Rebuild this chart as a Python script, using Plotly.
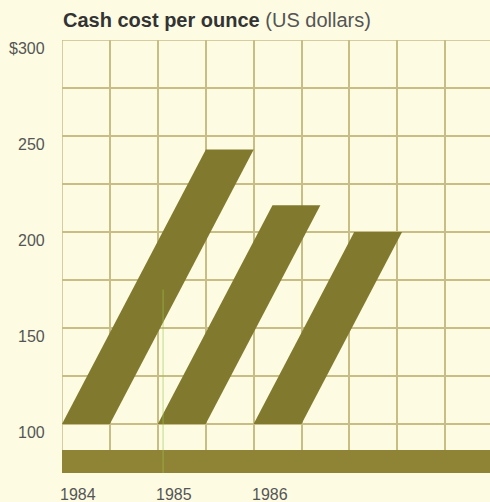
import plotly.graph_objects as go

# Data
years = ["1984", "1985", "1986"]
cash_cost = [243, 214, 200]          # US dollars per ounce (top of each slanted bar)
base_value = 100                     # bars start at $100
y_ticks = [100, 125, 150, 175, 200, 225, 250, 275, 300]
y_labels = {100: "100", 150: "150", 200: "200", 250: "250", 300: "$300"}

# Style / geometry constants
BG = "#FDFCE3"
GRID = "#C8BD84"
BAR = "#817A2E"
BASE = "#8F8336"
SLANT = 0.021          # horizontal grid cells per dollar of rise
BAR_W = 1.0            # bar width in grid cells
YEAR_STEP = 2          # grid cells between years
X_MAX = 8.935
Y_MIN = 74.5

fig = go.Figure()

for i, (yr, v) in enumerate(zip(years, cash_cost)):
    x0 = i * YEAR_STEP
    dx = (v - base_value) * SLANT
    xs = [x0, x0 + BAR_W, x0 + BAR_W + dx, x0 + dx, x0]
    ys = [base_value, base_value, v, v, base_value]
    fig.add_trace(go.Scatter(x=xs, y=ys, mode="lines", fill="toself",
                             fillcolor=BAR, line=dict(width=0, color=BAR),
                             hoverinfo="skip", showlegend=False, name=yr))

# edge grid lines (plotly drops gridlines on the range edges)
fig.add_shape(type="line", xref="paper", yref="y", x0=0, x1=1, y0=300, y1=300,
              line=dict(color=GRID, width=1.5), layer="below")
fig.add_shape(type="line", xref="x", yref="y", x0=0, x1=0, y0=Y_MIN, y1=300,
              line=dict(color=GRID, width=1.5), layer="below")
# base band
fig.add_shape(type="rect", xref="paper", yref="y", x0=0, x1=1, y0=Y_MIN, y1=86.5,
              fillcolor=BASE, line=dict(width=0), layer="above")
# faint green scan line
fig.add_shape(type="line", xref="x", yref="y", x0=2.11, x1=2.11, y0=170, y1=Y_MIN,
              line=dict(color="#9DC44C", width=1), opacity=0.6, layer="above")

annotations = []
for val, txt in y_labels.items():
    annotations.append(dict(xref="paper", yref="y", x=0, y=val, text=txt,
                            xanchor="right", yanchor="middle", xshift=-15, yshift=-8,
                            showarrow=False,
                            font=dict(family="Liberation Sans, Arial", size=16, color="#555555")))
for i, yr in enumerate(years):
    annotations.append(dict(xref="x", yref="paper", x=i * YEAR_STEP, y=0, text=yr,
                            xanchor="left", yanchor="middle", xshift=-4, yshift=-21,
                            showarrow=False,
                            font=dict(family="Liberation Sans, Arial", size=16, color="#555555")))
annotations.append(dict(xref="paper", yref="paper", x=0, y=1, xanchor="left", yanchor="middle",
                        yshift=20, xshift=-1, showarrow=False,
                        text="<b>Cash cost per ounce</b> <span style='color:#555555'>(US dollars)</span>",
                        font=dict(family="Liberation Sans, Arial", size=20, color="#333333")))

fig.update_layout(
    width=490, height=502,
    margin=dict(l=62, r=0, t=40, b=29),
    paper_bgcolor=BG, plot_bgcolor=BG,
    annotations=annotations,
    xaxis=dict(range=[0, X_MAX], tickvals=list(range(0, 9)), showticklabels=False,
               showgrid=True, gridcolor=GRID, gridwidth=1.5, zeroline=False,
               showline=False, ticks="", fixedrange=True),
    yaxis=dict(range=[Y_MIN, 300], tickvals=y_ticks, showticklabels=False,
               showgrid=True, gridcolor=GRID, gridwidth=1.5, zeroline=False,
               showline=False, ticks="", fixedrange=True),
)

fig.write_html("out.html", config={"displayModeBar": False},
               post_script="document.body.style.margin='0px';document.body.style.overflow='hidden';document.body.style.background='" + BG + "';")
